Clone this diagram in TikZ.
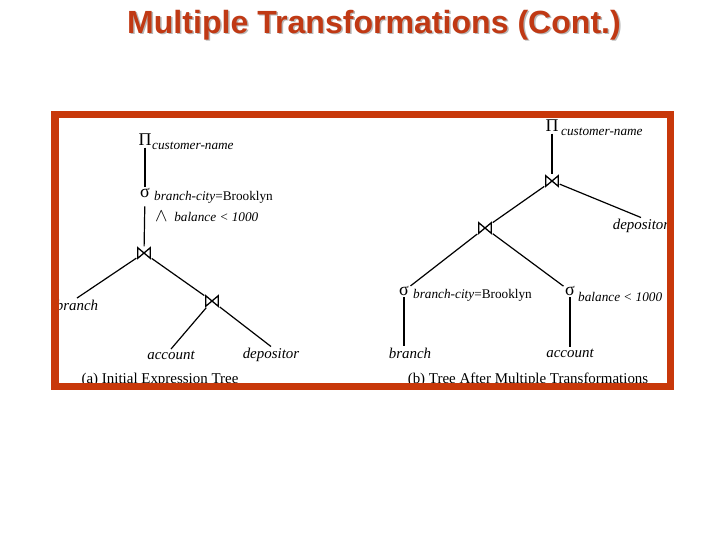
\documentclass[tikz,border=0pt]{standalone}
\usepackage{fontspec}
\setmainfont{Liberation Serif}
\newfontfamily\titlefont{Liberation Sans}
\definecolor{framered}{RGB}{200,56,10}
\definecolor{titlered}{RGB}{192,57,20}
\begin{document}
\begin{tikzpicture}[x=1bp,y=-1bp,
  op/.style={inner sep=1.5bp, font=\fontsize{18}{20}\selectfont},
  jnode/.style={inner sep=0pt, minimum width=15bp, minimum height=13bp,
    path picture={\draw[line width=1.3bp, line join=miter]
      ([shift={(1.2,1.2)}]path picture bounding box.north west) --
      ([shift={(1.2,-1.2)}]path picture bounding box.south west) --
      ([shift={(-1.2,1.2)}]path picture bounding box.north east) --
      ([shift={(-1.2,-1.2)}]path picture bounding box.south east) -- cycle;}},
  sub/.style={anchor=west, inner sep=0pt, font=\fontsize{13.3}{16}\selectfont},
  leaf/.style={inner sep=1.5bp, font=\fontsize{15}{18}\selectfont\itshape},
  capt/.style={inner sep=0pt, font=\fontsize{15}{18}\selectfont},
  edge/.style={draw, line width=1.2bp}]
\useasboundingbox (0,0) rectangle (720,540);
% title
\node[font=\titlefont\bfseries\fontsize{32.2}{36}\selectfont, text=black!28, inner sep=0pt] (titleshadow) at (375.5,26.5) {Multiple Transformations (Cont.)};
\node[font=\titlefont\bfseries\fontsize{32.2}{36}\selectfont, text=titlered, inner sep=0pt] (title) at (374,25) {Multiple Transformations (Cont.)};
\begin{scope}
\clip (58,118) rectangle (666,383);
% left tree
\node[op] (piA) at (145,140) {Π};
\node[sub] (piAl) at (152,146) {\itshape customer-name};
\node[op] (sigA) at (145,193) {σ};
\node[sub] (sigAl) at (154,197) {\textit{branch-city}=Brooklyn};
\node[sub] (sigAl2) at (155,216) {\scalebox{1.3}{$\wedge$}\ \ \textit{balance < 1000}};
\node[jnode] (jA1) at (144,253) {};
\node[leaf] (branchA) at (77,305) {branch};
\node[jnode] (jA2) at (212,301) {};
\node[leaf] (accountA) at (171,355) {account};
\node[leaf] (depositorA) at (271,355) {depositor};
\node[capt] (captA) at (160,380) {(a) Initial Expression Tree};
\draw[edge] (piA) -- (sigA);
\draw[edge, shorten <=7bp] (sigA) -- (jA1);
\draw[edge] (jA1) -- (branchA.north);
\draw[edge] (jA1) -- (jA2);
\draw[edge] (jA2) -- (accountA.north);
\draw[edge] (jA2) -- (depositorA.north);
% right tree
\node[op] (piB) at (552,126) {Π};
\node[sub] (piBl) at (561,132) {\itshape customer-name};
\node[jnode] (jB1) at (552,181) {};
\node[leaf] (depositorB) at (641,226) {depositor};
\node[jnode] (jB2) at (485,228) {};
\node[op] (sigB1) at (404,291) {σ};
\node[sub] (sigB1l) at (413,295) {\textit{branch-city}=Brooklyn};
\node[op] (sigB2) at (570,291) {σ};
\node[sub] (sigB2l) at (578,297) {\textit{balance < 1000}};
\node[leaf] (branchB) at (410,353) {branch};
\node[leaf] (accountB) at (570,353) {account};
\node[capt] (captB) at (528,380) {(b) Tree After Multiple Transformations};
\draw[edge] (piB) -- (jB1);
\draw[edge] (jB1) -- (depositorB.north);
\draw[edge] (jB1) -- (jB2);
\draw[edge] (jB2) -- (sigB1);
\draw[edge] (jB2) -- (sigB2);
\draw[edge] (sigB1) -- (sigB1 |- branchB.north);
\draw[edge] (sigB2) -- (accountB.north);
\end{scope}
% frame
\draw[framered, line width=7.5bp] (54.75,114.75) rectangle (670.25,386.5);
\end{tikzpicture}
\end{document}
